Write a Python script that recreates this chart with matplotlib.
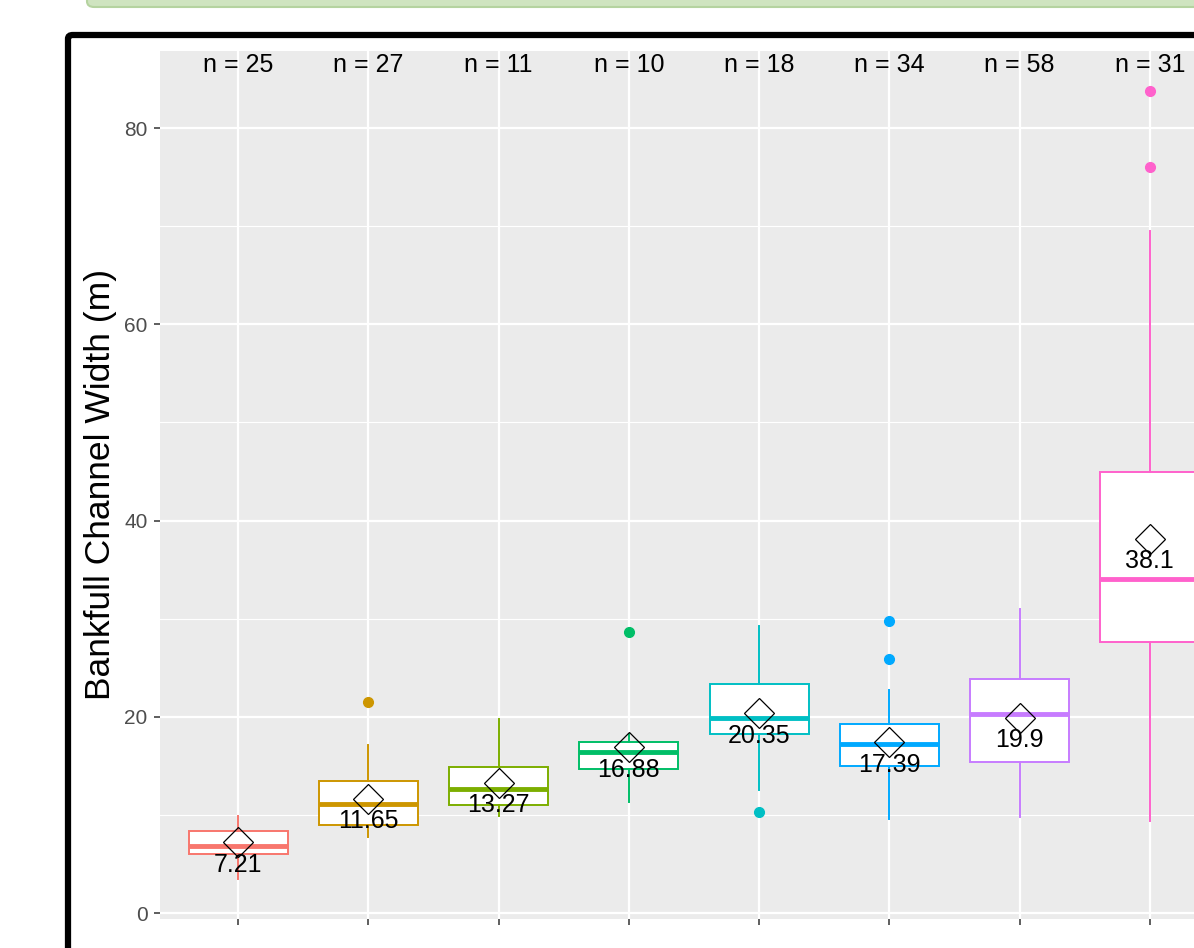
import numpy as np
import matplotlib.pyplot as plt
from matplotlib.patches import FancyBboxPatch

plt.rcParams['font.family'] = ['Liberation Sans', 'DejaVu Sans']

# Box statistics per group
colors = ['#F8766D', '#CD9600', '#7CAE00', '#00BE67', '#00BFC4', '#00A9FF', '#C77CFF', '#FF61CC']
n_counts = [25, 27, 11, 10, 18, 34, 58, 31]
whislo = [3.5, 7.8, 9.9, 11.3, 12.5, 9.6, 9.8, 9.4]
q1 = [6.0, 9.0, 11.0, 14.7, 18.3, 15.0, 15.4, 27.6]
med = [6.8, 11.1, 12.6, 16.4, 19.9, 17.2, 20.3, 34.0]
q3 = [8.4, 13.5, 14.9, 17.4, 23.3, 19.3, 23.9, 44.9]
whishi = [9.9, 17.1, 19.8, 18.3, 29.3, 22.7, 31.0, 69.5]
means = [7.21, 11.65, 13.27, 16.88, 20.35, 17.39, 19.9, 38.1]
mean_labels = ['7.21', '11.65', '13.27', '16.88', '20.35', '17.39', '19.9', '38.1']
outliers = [[], [21.5], [], [28.6], [10.3], [25.9, 29.8], [], [76.0, 83.8]]

fig = plt.figure(figsize=(11.94, 9.48), dpi=100)

# decoration of the screenshot: green bar and black frame
bar = FancyBboxPatch((87 / 1194, 1 - 7 / 948), 1.2, 0.2, boxstyle='round,pad=0,rounding_size=0.006',
                     transform=fig.transFigure, facecolor='#cfe4c0', edgecolor='#b5d3a0', lw=1.5, zorder=-2)
frame = FancyBboxPatch((68 / 1194, -0.2), 1.2, 1.2 - 35 / 948, boxstyle='round,pad=0,rounding_size=0.004',
                       transform=fig.transFigure, facecolor='white', edgecolor='black', lw=4.5, zorder=-2)
fig.patches.extend([bar, frame])

ax = fig.add_axes([160 / 1194, 1 - 919 / 948, 1068 / 1194, 868.5 / 948])
ax.set_zorder(2)
ax.set_facecolor('#EBEBEB')
ax.set_xlim(0.4, 8.6)
ax.set_ylim(-0.6, 87.9)

ax.set_yticks([0, 20, 40, 60, 80])
ax.set_yticks([10, 30, 50, 70], minor=True)
ax.set_xticks(np.arange(1, 9))
ax.set_xticklabels([])
ax.grid(which='major', color='white', lw=1.6)
ax.grid(which='minor', axis='y', color='white', lw=0.8)
ax.set_axisbelow(True)
for s in ax.spines.values():
    s.set_visible(False)
ax.tick_params(which='major', length=4, width=1.1, color='#333333', labelsize=15, labelcolor='#4D4D4D', pad=5)
ax.tick_params(which='minor', length=0)

stats = []
for i in range(len(n_counts)):
    stats.append(dict(whislo=whislo[i], q1=q1[i], med=med[i], q3=q3[i], whishi=whishi[i], fliers=outliers[i]))

for i, st in enumerate(stats):
    c = colors[i]
    ax.bxp([st], positions=[i + 1], widths=0.76, patch_artist=True, showcaps=False, manage_ticks=False,
           boxprops=dict(facecolor='white', edgecolor=c, lw=1.4),
           whiskerprops=dict(color=c, lw=1.4),
           medianprops=dict(color=c, lw=3.5, solid_capstyle='butt'),
           flierprops=dict(marker='o', markerfacecolor=c, markeredgecolor=c, markersize=7))

x = np.arange(1, len(means) + 1)
ax.plot(x, means, ls='none', marker='D', markersize=15.5, markerfacecolor='none', markeredgecolor='black', mew=0.9, zorder=5)
for xi, m, lab in zip(x, means, mean_labels):
    ax.annotate(lab, (xi, m), xytext=(0, -16), textcoords='offset points', ha='center', va='center',
                fontsize=18, color='black', zorder=6)
for xi, n in zip(x, n_counts):
    ax.text(xi, 86.4, 'n = %d' % n, ha='center', va='center', fontsize=18, color='black')

ax.set_ylabel('Bankfull Channel Width (m)', fontsize=25.5, color='black')
ax.yaxis.set_label_coords(-43 / 1068, 0.5)

fig.savefig('out.png', dpi=100)
